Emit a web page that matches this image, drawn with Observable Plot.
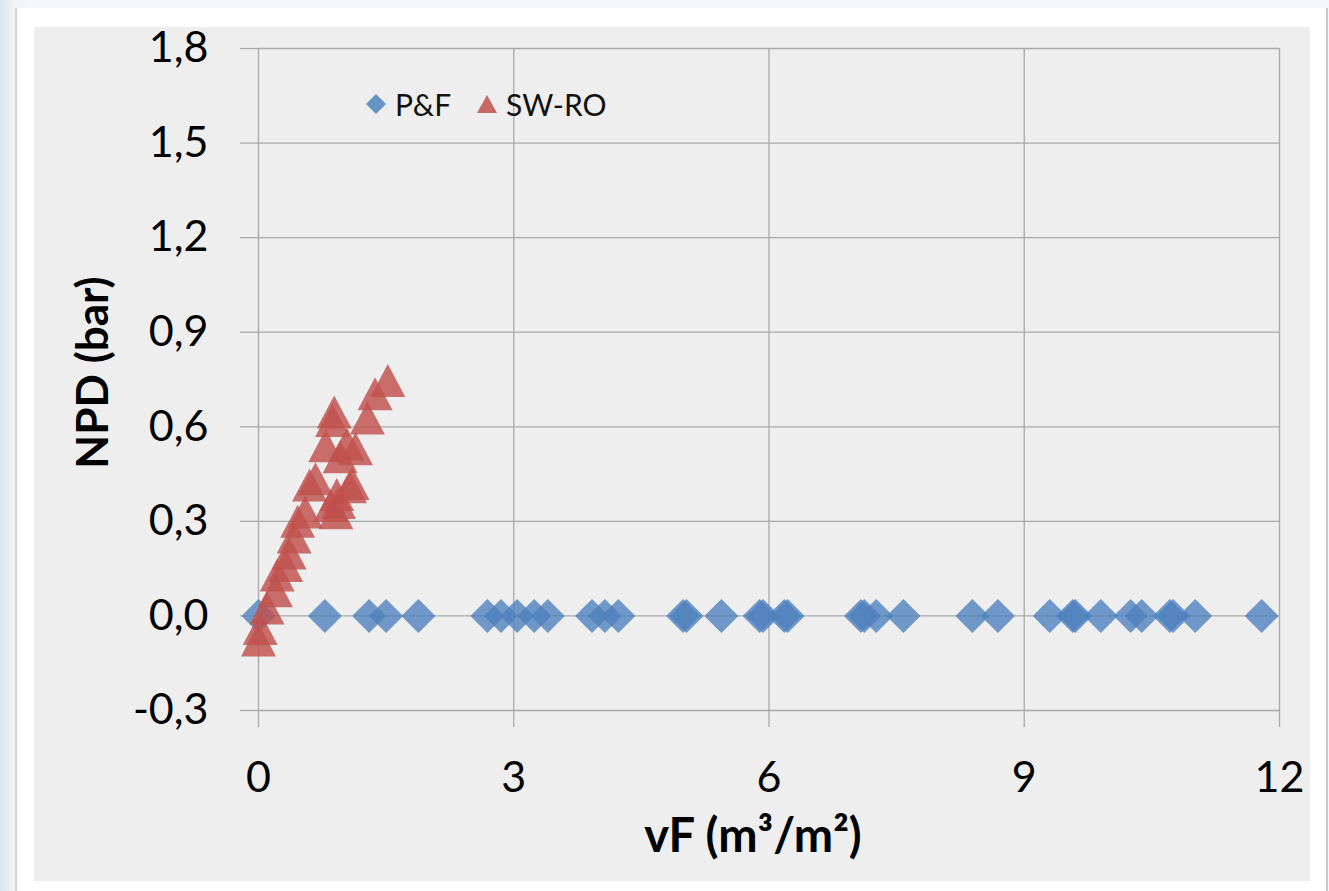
<!DOCTYPE html>
<html>
<head>
<meta charset="utf-8">
<script src="https://cdn.jsdelivr.net/npm/d3@7"></script>
<script src="https://cdn.jsdelivr.net/npm/@observablehq/plot@0.6"></script>
<style>
  html, body { margin: 0; padding: 0; }
  body {
    width: 1329px; height: 891px; overflow: hidden; position: relative;
    background: linear-gradient(to right, #d9e4ec 0px, #eef3f6 14px, #f5f8fa 30px);
    font-family: Lato, "Open Sans", sans-serif;
  }
  #panel {
    position: absolute; left: 15px; top: 8px; width: 1309px; height: 883px;
    background: #ffffff; border-left: 2px solid #d2d2d2; border-right: 2px solid #c8c8c8;
  }
  #chartbg { position: absolute; left: 34px; top: 27px; width: 1276px; height: 854px; background: #eeeeee; }
  #chart { position: absolute; left: 34px; top: 9px; }
  #legend {
    position: absolute; left: 366px; top: 86px; height: 36px;
    display: flex; align-items: center; font-family: Lato, sans-serif; font-size: 30px; color: #111;
  }
  #legend .item { display: flex; align-items: center; margin-right: 26px; }
  #legend svg { margin-right: 9px; }
</style>
</head>
<body>
<div id="panel"></div>
<div id="chartbg"></div>
<div id="chart"></div>
<div id="legend"></div>
<script>
// ---- data ----
const seriesNames = ["P&F", "SW-RO"];
const seriesColors = ["#4f81bd", "#c0504d"];

const pfVF  = [0.00, 0.78, 1.30, 1.50, 1.88, 2.69, 2.85, 3.04, 3.24, 3.40, 3.92, 4.07, 4.23, 4.99, 5.03, 5.44, 5.89, 5.93, 6.18, 6.22, 7.08, 7.12, 7.26, 7.58, 8.39, 8.69, 9.30, 9.57, 9.60, 9.90, 10.25, 10.38, 10.71, 10.75, 11.01, 11.79];
const pfNPD = [0, 0, 0, 0, 0, 0, 0, 0, 0, 0, 0, 0, 0, 0, 0, 0, 0, 0, 0, 0, 0, 0, 0, 0, 0, 0, 0, 0, 0, 0, 0, 0, 0, 0, 0, 0];

const swroVF  = [0.00, 0.02, 0.10, 0.20, 0.22, 0.32, 0.36, 0.42, 0.46, 0.55, 0.60, 0.67, 0.79, 0.87, 0.89, 0.96, 1.04, 1.14, 1.10, 1.07, 0.92, 0.85, 0.91, 0.94, 1.28, 1.37, 1.52];
const swroNPD = [-0.076, -0.04, 0.025, 0.08, 0.13, 0.16, 0.20, 0.25, 0.30, 0.33, 0.415, 0.435, 0.54, 0.62, 0.647, 0.505, 0.545, 0.53, 0.42, 0.41, 0.385, 0.35, 0.327, 0.36, 0.628, 0.705, 0.747];

const xTicks = [0, 3, 6, 9, 12];
const yTicks = [-0.3, 0, 0.3, 0.6, 0.9, 1.2, 1.5, 1.8];
const xTitle = "vF (m³/m²)";
const yTitle = "NPD (bar)";

// ---- tables built from the arrays ----
const pf = pfVF.map((v, i) => ({vF: v, npd: pfNPD[i]}));
const swro = swroVF.map((v, i) => ({vF: v, npd: swroNPD[i]}));

// custom Excel-like marker shapes (centered on their bounding box)
const diamondSym = {draw(ctx, size) {
  const a = Math.sqrt(size / Math.PI);
  ctx.moveTo(0, -a); ctx.lineTo(a, 0); ctx.lineTo(0, a); ctx.lineTo(-a, 0); ctx.closePath();
}};
const triangleSym = {draw(ctx, size) {
  const a = Math.sqrt(size / Math.PI);
  ctx.moveTo(0, -a); ctx.lineTo(a * 1.06, a); ctx.lineTo(-a * 1.06, a); ctx.closePath();
}};

const fmt = d => d.toFixed(1).replace(".", ",");
const gridColor = "#a9a9a9";

const plot = Plot.plot({
  width: 1276,
  height: 872,
  marginLeft: 224,
  marginRight: 31,
  marginTop: 39,
  marginBottom: 171,
  style: {background: "transparent", fontFamily: "Lato, 'Open Sans', sans-serif", fontSize: "43px", color: "#000", overflow: "visible"},
  x: {domain: [0, 12], label: null},
  y: {domain: [-0.3, 1.8], label: null},
  marks: [
    Plot.gridX(xTicks, {stroke: gridColor, strokeOpacity: 1, strokeWidth: 1.3}),
    Plot.gridY(yTicks, {stroke: gridColor, strokeOpacity: 1, strokeWidth: 1.3}),
    Plot.axisX(xTicks, {tickSize: 17, tickPadding: 34, stroke: gridColor, strokeWidth: 1.3, tickFormat: d => String(d), fill: "#000", fontSize: 43, label: null}),
    Plot.axisY(yTicks, {tickSize: 18, tickPadding: 32, stroke: gridColor, strokeWidth: 1.3, tickFormat: fmt, fill: "#000", fontSize: 43, label: null}),
    Plot.dot(pf, {x: "vF", y: "npd", symbol: diamondSym, r: 17, fill: seriesColors[0], fillOpacity: 0.8, stroke: "none"}),
    Plot.dot(swro, {x: "vF", y: "npd", symbol: triangleSym, r: 16.5, fill: seriesColors[1], fillOpacity: 0.82, stroke: "none"}),
    Plot.text([xTitle], {frameAnchor: "bottom", textAnchor: "middle", lineAnchor: "middle", dx: -16, dy: 126, fontSize: 47, fontWeight: "bold", fill: "#000"}),
    Plot.text([yTitle], {frameAnchor: "left", textAnchor: "middle", lineAnchor: "middle", rotate: -90, dx: -165, dy: -7, fontSize: 44, fontWeight: "bold", fill: "#000"})
  ]
});
document.getElementById("chart").appendChild(plot);

// legend (HTML, inside the plot area like the original)
const legend = document.getElementById("legend");
const shapes = [
  '<svg width="20" height="20" viewBox="-10 -10 20 20"><path d="M0,-10L10,0L0,10L-10,0Z" fill="' + seriesColors[0] + '" fill-opacity="0.85"/></svg>',
  '<svg width="20" height="20" viewBox="-10 -10 20 20"><path d="M0,-9L10,9L-10,9Z" fill="' + seriesColors[1] + '" fill-opacity="0.85"/></svg>'
];
seriesNames.forEach((name, i) => {
  const item = document.createElement("div");
  item.className = "item";
  item.innerHTML = shapes[i];
  const span = document.createElement("span");
  span.textContent = name;
  item.appendChild(span);
  legend.appendChild(item);
});
</script>
</body>
</html>
